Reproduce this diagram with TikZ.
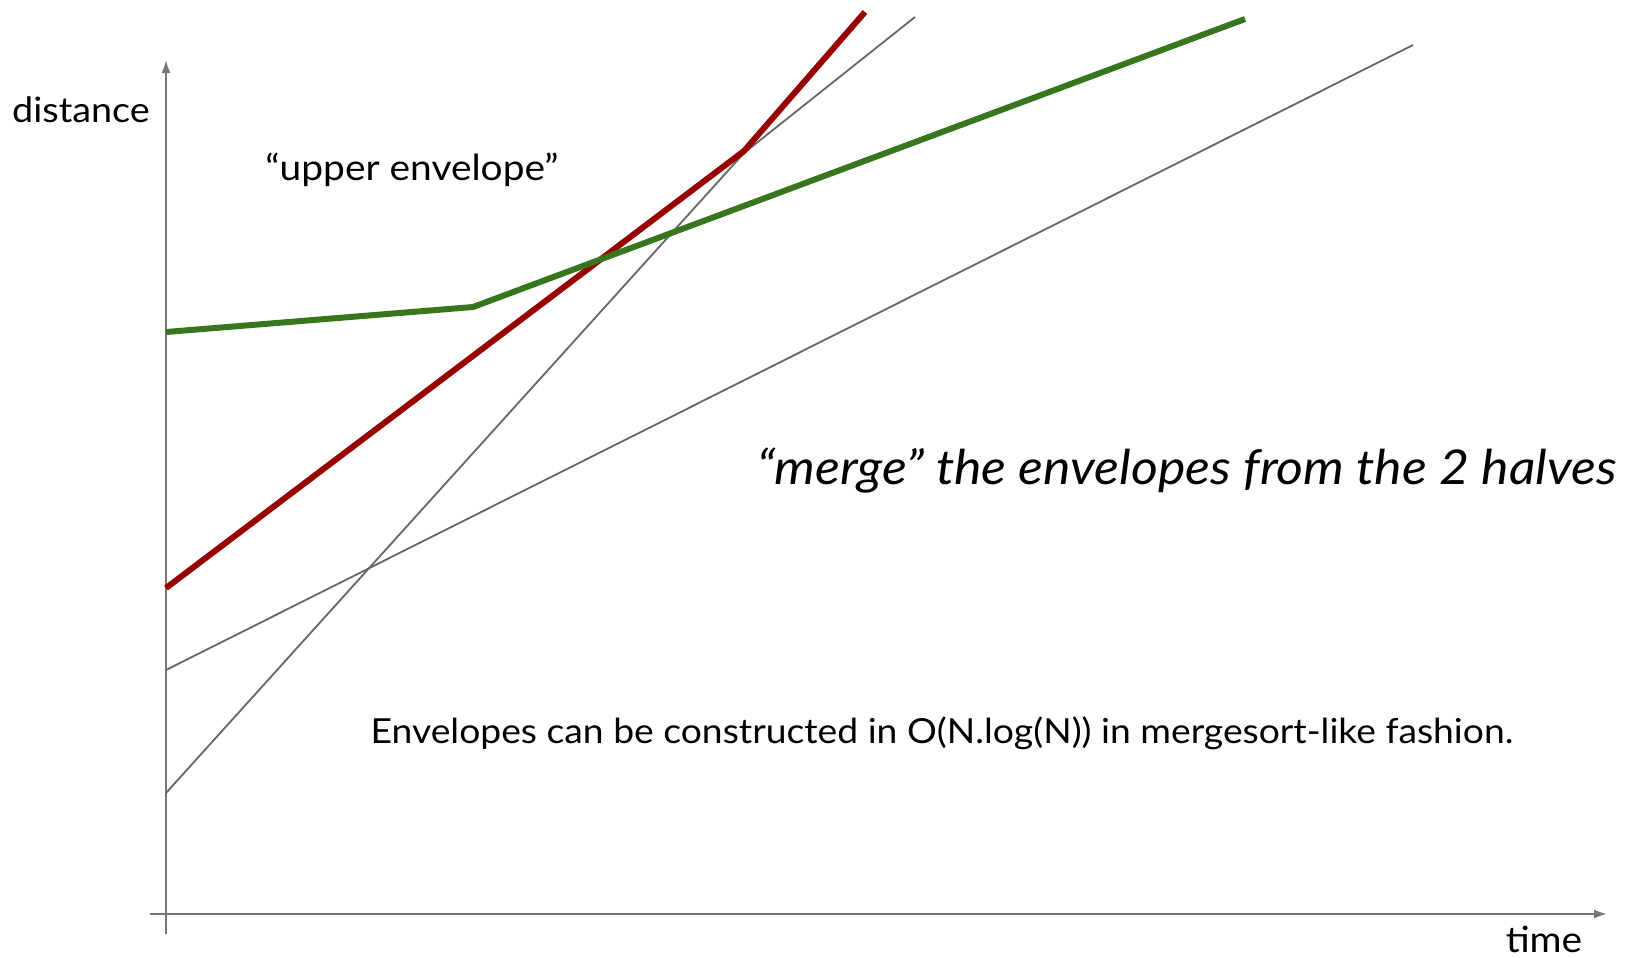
\documentclass[tikz,border=0pt]{standalone}
\usepackage{fontspec}
\setmainfont{Lato}[FakeStretch=1.08]
\usetikzlibrary{arrows.meta}
\definecolor{axisgray}{HTML}{777777}
\definecolor{linegray}{HTML}{666666}
\definecolor{envred}{HTML}{990000}
\definecolor{envgreen}{HTML}{38761D}
\tikzset{
  axis/.style={draw=axisgray, line width=2pt, -{Latex[length=13pt,width=9pt]}},
  thinline/.style={draw=linegray, line width=1.8pt},
  redenv/.style={draw=envred, line width=6pt},
  greenenv/.style={draw=envgreen, line width=6pt},
  lbl/.style={inner sep=0pt, anchor=base, font=\fontsize{36}{42}\selectfont},
}
\begin{document}
\begin{tikzpicture}[x=1pt,y=-1pt]
\useasboundingbox (0,0) rectangle (1627,958);
% axes
\coordinate (ybot) at (166,934);
\coordinate (ytop) at (166,60);
\coordinate (xleft) at (150,914);
\coordinate (xright) at (1607,914);
\draw[axis] (ybot) -- (ytop);
\draw[axis] (xleft) -- (xright);
% gray lines
\coordinate (g1a) at (166,793);
\coordinate (g1b) at (744,153);
\coordinate (g1c) at (915,17);
\coordinate (g2a) at (166,670);
\coordinate (g2b) at (1413,45);
\draw[thinline] (g1a) -- (g1b) -- (g1c);
\draw[thinline] (g2a) -- (g2b);
% red envelope
\coordinate (r1) at (166,588);
\coordinate (r2) at (744,151);
\coordinate (r3) at (865,12);
\draw[redenv] (r1) -- (r2) -- (r3);
% green envelope
\coordinate (gr1) at (166,332);
\coordinate (gr2) at (473,307);
\coordinate (gr3) at (1245,19);
\draw[greenenv] (gr1) -- (gr2) -- (gr3);
% labels
\node[lbl, font=\fontsize{35}{42}\selectfont] (dist) at (81,122) {distance};
\node[lbl] (time) at (1544,952) {time};
\node[lbl] (upper) at (412,180) {“upper envelope”};
\node[lbl, font=\fontsize{34.5}{42}\selectfont] (constr) at (942,743) {Envelopes can be constructed in O(N.log(N)) in mergesort-like fashion.};
\node[lbl, font=\fontsize{48}{56}\selectfont\itshape] (merge) at (1187,484) {“merge” the envelopes from the 2 halves};
\end{tikzpicture}
\end{document}
